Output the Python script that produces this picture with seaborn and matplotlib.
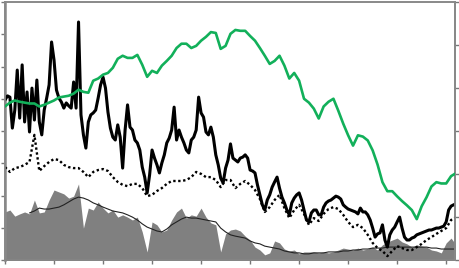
import numpy as np
import pandas as pd
import matplotlib
matplotlib.use("Agg")
import matplotlib.pyplot as plt
import seaborn as sns

# ---- data ----
# green series (right axis, step 0.1 on time axis)
green = [3.57, 3.66, 3.71, 3.68, 3.66, 3.64, 3.64, 3.57, 3.61, 3.66,
         3.71, 3.78, 3.80, 3.82, 3.87, 3.96, 3.91, 3.89, 4.17, 4.22,
         4.31, 4.35, 4.47, 4.68, 4.75, 4.70, 4.70, 4.77, 4.54, 4.26,
         4.40, 4.35, 4.52, 4.63, 4.75, 4.93, 5.03, 5.03, 4.93, 4.98,
         5.10, 5.19, 5.30, 5.28, 4.91, 4.98, 5.26, 5.35, 5.33, 5.33,
         5.21, 5.10, 4.93, 4.75, 4.56, 4.63, 4.75, 4.52, 4.22, 4.35,
         4.17, 3.75, 3.66, 3.52, 3.29, 3.57, 3.68, 3.75, 3.47, 3.17,
         2.90, 2.66, 2.90, 2.87, 2.78, 2.55, 2.22, 1.81, 1.60, 1.60,
         1.48, 1.37, 1.27, 1.16, 0.95, 1.25, 1.46, 1.71, 1.81, 1.78,
         1.78, 1.95, 2.02]

# black series (left axis, step 0.05)
black = [4.96, 5.09, 5.05, 4.09, 4.65, 5.89, 4.40, 6.05, 4.28, 5.21,
         3.97, 5.33, 4.34, 5.58, 4.28, 3.88, 4.65, 5.02, 5.43, 6.76,
         6.20, 5.27, 5.02, 4.90, 4.71, 4.87, 4.78, 4.71, 5.52, 4.71,
         7.38, 4.50, 3.88, 3.47, 4.28, 4.50, 4.56, 4.65, 5.02, 5.43,
         5.67, 5.33, 4.59, 4.09, 3.81, 3.72, 4.19, 3.81, 2.85, 4.03,
         4.81, 4.12, 4.03, 3.72, 3.63, 3.41, 2.88, 2.57, 2.08, 2.64,
         3.41, 3.16, 2.95, 2.70, 3.01, 3.26, 3.63, 3.78, 4.03, 4.74,
         3.72, 4.03, 3.81, 3.63, 3.41, 3.32, 3.72, 3.81, 4.03, 5.05,
         4.56, 4.43, 3.97, 3.88, 4.12, 3.81, 3.26, 2.95, 2.54, 2.39,
         2.85, 3.10, 3.60, 3.16, 3.10, 3.04, 3.16, 3.19, 3.26, 3.16,
         2.79, 2.76, 2.70, 2.33, 2.02, 1.71, 1.55, 1.86, 2.02, 2.26,
         2.42, 2.57, 2.23, 1.95, 1.77, 1.55, 1.40, 1.77, 1.92, 2.02,
         2.08, 1.86, 1.55, 1.24, 1.18, 1.46, 1.55, 1.55, 1.40, 1.40,
         1.64, 1.77, 1.83, 1.86, 1.92, 1.98, 1.95, 1.89, 1.71, 1.64,
         1.58, 1.55, 1.52, 1.49, 1.43, 1.61, 1.49, 1.49, 1.40, 1.24,
         0.99, 0.71, 0.81, 0.84, 1.09, 0.62, 0.40, 0.78, 0.93, 1.02,
         1.18, 1.33, 0.99, 0.71, 0.62, 0.62, 0.68, 0.71, 0.78, 0.81,
         0.84, 0.87, 0.90, 0.93, 0.93, 0.96, 0.99, 0.99, 1.02, 1.05,
         1.18, 1.55, 1.67, 1.71, 1.74]

# dotted series (left axis, step 0.1)
dotted = [2.88, 2.73, 2.85, 2.88, 2.95, 3.04, 3.88, 2.76, 2.91, 3.04,
          3.13, 3.10, 2.95, 2.88, 2.85, 2.85, 2.73, 2.57, 2.73, 2.79,
          2.82, 2.76, 2.57, 2.42, 2.33, 2.29, 2.36, 2.36, 2.23, 1.98,
          2.02, 2.14, 2.23, 2.36, 2.45, 2.45, 2.45, 2.48, 2.57, 2.73,
          2.67, 2.57, 2.57, 2.48, 2.26, 2.48, 2.48, 2.23, 2.36, 2.45,
          2.33, 2.17, 1.89, 1.49, 1.64, 1.86, 2.02, 1.61, 1.30, 1.55,
          1.71, 1.43, 1.09, 1.30, 1.21, 1.43, 1.58, 1.64, 1.58, 1.40,
          1.18, 1.02, 1.09, 0.99, 0.78, 0.53, 0.37, 0.28, 0.12, 0.28,
          0.43, 0.37, 0.31, 0.31, 0.40, 0.50, 0.62, 0.71, 0.81, 0.90,
          0.99, 1.24, 1.33]

# grey area (left axis, step 0.1)
area = [1.49, 1.55, 1.36, 1.43, 1.49, 1.43, 1.86, 1.46, 1.49, 1.86,
        2.17, 2.11, 2.05, 1.92, 1.98, 2.36, 0.99, 1.61, 1.55, 1.80,
        1.61, 1.46, 1.55, 1.33, 1.40, 1.33, 1.24, 1.33, 0.87, 0.25,
        1.18, 1.09, 0.87, 0.93, 1.24, 1.49, 1.61, 1.30, 1.40, 1.36,
        1.61, 1.33, 1.15, 1.09, 0.25, 0.81, 0.93, 0.96, 0.90, 0.74,
        0.62, 0.40, 0.31, 0.16, 0.22, 0.59, 0.53, 0.34, 0.28, 0.31,
        0.19, 0.25, 0.25, 0.25, 0.22, 0.25, 0.22, 0.25, 0.31, 0.37,
        0.34, 0.31, 0.37, 0.31, 0.34, 0.40, 0.31, 0.47, 0.56, 0.62,
        0.68, 0.56, 0.50, 0.40, 0.47, 0.43, 0.40, 0.31, 0.28, 0.22,
        0.53, 0.68, 0.47]

# thin moving-average line of the grey area (starts at step 5)
area_avg = [1.46, 1.52, 1.61, 1.58, 1.58, 1.61, 1.64, 1.71, 1.80, 1.89,
            1.95, 1.92, 1.86, 1.77, 1.71, 1.64, 1.58, 1.52, 1.49, 1.46,
            1.40, 1.33, 1.24, 1.12, 1.02, 0.96, 0.90, 0.87, 0.96, 1.09,
            1.18, 1.27, 1.33, 1.30, 1.30, 1.27, 1.24, 1.21, 1.18, 0.99,
            0.87, 0.78, 0.74, 0.71, 0.68, 0.59, 0.53, 0.50, 0.43, 0.40,
            0.37, 0.34, 0.28, 0.25, 0.22, 0.22, 0.19, 0.19, 0.22, 0.22,
            0.22, 0.25, 0.25, 0.25, 0.28, 0.28, 0.31, 0.31, 0.34, 0.34,
            0.37, 0.37, 0.37, 0.40, 0.40, 0.40, 0.40, 0.40, 0.40, 0.40,
            0.40, 0.40, 0.37, 0.37, 0.34, 0.34, 0.34, 0.34]
avg_start = 5

# ---- frames ----
t_coarse = np.round(np.arange(len(green)) * 0.1, 3)
t_fine = np.round(np.arange(len(black)) * 0.05, 3)
df_coarse = pd.DataFrame({"t": t_coarse, "green": green, "dotted": dotted, "area": area})
df_fine = pd.DataFrame({"t": t_fine, "black": black})
df_avg = pd.DataFrame({"t": t_coarse[avg_start:avg_start + len(area_avg)], "avg": area_avg})

sns.set_theme(style="white")
W, H = 460, 268
fig = plt.figure(figsize=(W / 100, H / 100), dpi=100)
ax = fig.add_axes([5 / W, 8 / H, 450 / W, 258 / H])

ax.fill_between(df_coarse["t"], 0, df_coarse["area"], color="#808080", linewidth=0, zorder=1)
sns.lineplot(data=df_avg, x="t", y="avg", ax=ax, color="#222222", linewidth=0.8, zorder=2)
sns.lineplot(data=df_coarse, x="t", y="dotted", ax=ax, color="black", linewidth=1.7,
             linestyle=(0, (1, 1.1)), zorder=3)
sns.lineplot(data=df_fine, x="t", y="black", ax=ax, color="black", linewidth=2.2, zorder=4)

ax.set_xlim(0, 9.18)
ax.set_ylim(0, 8)
ax.set_xticks(range(10))
ax.set_yticks(range(9))

ax2 = ax.twinx()
sns.lineplot(data=df_coarse, x="t", y="green", ax=ax2, color="#12b05a", linewidth=1.9, zorder=5)
ax2.set_ylim(0, 5.98)
ax2.set_yticks(range(7))
ax2.set_xlim(0, 9.18)

for a in (ax, ax2):
    a.set_xlabel("")
    a.set_ylabel("")
    a.set_xticklabels([])
    a.set_yticklabels([])
    a.tick_params(axis="both", which="both", length=3, width=1, color="#777777",
                  direction="out", bottom=(a is ax), left=(a is ax), right=(a is ax2), top=False)
    for side, sp in a.spines.items():
        sp.set_visible(True)
        sp.set_color("#888888")
        sp.set_linewidth(1.3)
    a.grid(False)

ax.spines["left"].set_linewidth(1.8)
ax.spines["bottom"].set_color("#666666")
ax.spines["top"].set_color("#aaaaaa")

fig.savefig("out.png", dpi=100)
